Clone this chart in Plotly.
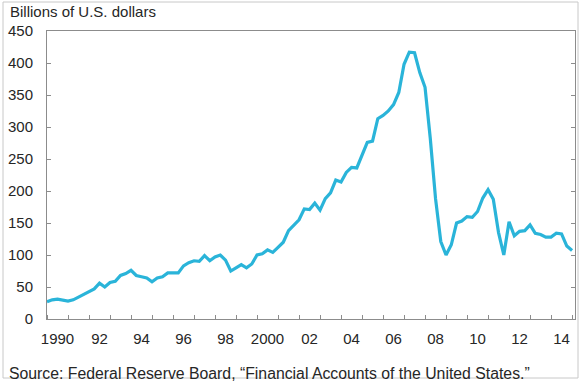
import plotly.graph_objects as go

# Quarterly values, 1990Q1 .. 2015Q1 (billions of U.S. dollars)
start_year = 1990
values = [
    27, 30, 31, 29, 28, 30, 34, 38, 42, 47,
    56, 50, 57, 59, 68, 71, 76, 68, 66, 64,
    58, 64, 66, 72, 72, 72, 83, 88, 91, 90,
    99, 91, 97, 100, 92, 75, 80, 85, 80, 86,
    100, 102, 108, 104, 112, 120, 138, 146, 155, 172,
    171, 181, 170, 188, 197, 217, 214, 229, 237, 236,
    256, 276, 278, 313, 318, 325, 335, 354, 398, 417,
    416, 385, 362, 282, 188, 121, 100, 116, 150, 153,
    160, 159, 168, 189, 202, 187, 135, 100, 152, 130,
    137, 138, 147, 134, 132, 128, 128, 134, 133, 114,
    107,
]
dates = [start_year + i / 4 for i in range(len(values))]

year_ticks = list(range(1990, 2016))
label_years = list(range(1990, 2015, 2))
label_text = ["1990", "92", "94", "96", "98", "2000", "02", "04", "06", "08", "10", "12", "14"]
y_ticks = list(range(0, 451, 50))

title_text = "Billions of U.S. dollars"
source_text = "Source: Federal Reserve Board, \u201cFinancial Accounts of the United States.\u201d"

font = "Liberation Sans, Arial, sans-serif"
text_color = "#262626"
axis_color = "#8c8c8c"

fig = go.Figure()
fig.add_trace(go.Scatter(
    x=dates, y=values, mode="lines",
    line=dict(color="#2ab4d9", width=3.2),
    hoverinfo="skip",
))

fig.update_layout(
    width=585, height=383,
    margin=dict(l=47, r=10, t=31, b=64),
    paper_bgcolor="white", plot_bgcolor="white",
    showlegend=False,
    font=dict(family=font, size=15, color=text_color),
    xaxis=dict(
        range=[1990, 2015.14],
        tickmode="array",
        tickvals=[y + 0.5 for y in label_years],
        ticktext=label_text,
        ticks="",
        showgrid=False, zeroline=False,
        showline=True, linecolor=axis_color, linewidth=1, mirror=True,
        ticklabelstandoff=6,
        automargin=False,
        tickfont=dict(family=font, size=15, color=text_color),
        minor=dict(tickmode="array", tickvals=year_ticks, ticks="inside",
                   ticklen=4, tickcolor=axis_color, showgrid=False),
    ),
    yaxis=dict(
        range=[0, 450],
        tickmode="array", tickvals=y_ticks,
        ticks="inside", ticklen=4, tickcolor=axis_color,
        showgrid=False, zeroline=False,
        showline=True, linecolor=axis_color, linewidth=1, mirror="ticks",
        ticklabelstandoff=10,
        automargin=False,
        tickfont=dict(family=font, size=15, color=text_color),
    ),
    annotations=[
        dict(text=title_text, xref="paper", yref="paper",
             x=(8 - 47) / 528, y=(319 - 12) / 288,
             xanchor="left", yanchor="middle", showarrow=False,
             font=dict(family=font, size=15, color=text_color)),
        dict(text=source_text, xref="paper", yref="paper",
             x=(7 - 47) / 528, y=(319 - 373) / 288,
             xanchor="left", yanchor="middle", showarrow=False,
             font=dict(family=font, size=15.8, color=text_color)),
    ],
    shapes=[
        dict(type="rect", xref="paper", yref="paper",
             x0=(3 - 47) / 528, x1=(578 - 47) / 528,
             y0=(319 - 378) / 288, y1=(319 - 2) / 288,
             line=dict(color="#c8c8c8", width=1), fillcolor="rgba(0,0,0,0)",
             layer="above"),
    ],
)

fig.write_html("out.html", config={"displayModeBar": False},
               post_script="document.body.style.margin='0';")
